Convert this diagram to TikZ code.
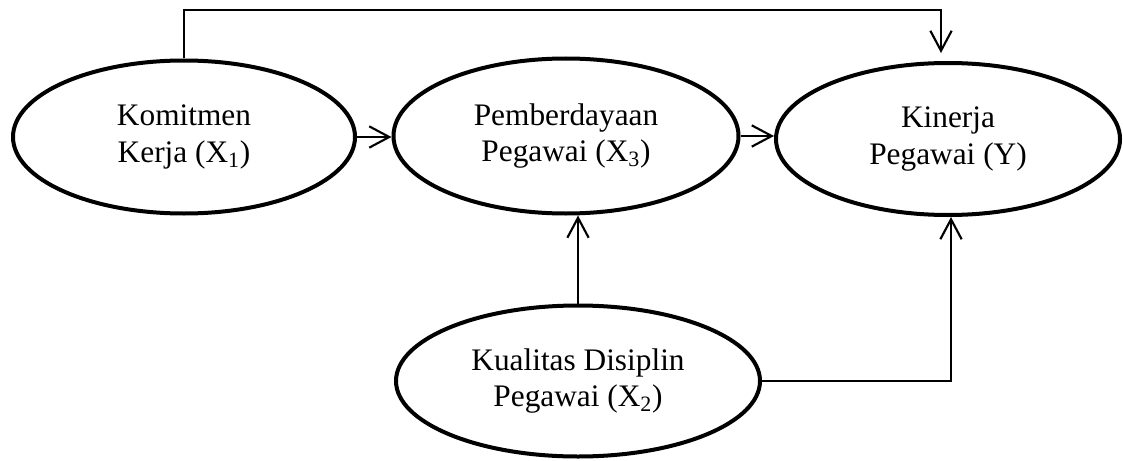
\documentclass[tikz,border=0pt]{standalone}
\usepackage{fontspec}
\setmainfont{Liberation Serif}
\usetikzlibrary{arrows.meta,shapes.geometric}

\tikzset{
  var/.style={draw, ellipse, line width=3pt, inner sep=0pt, align=center,
    font=\fontsize{23.5}{27.7}\selectfont},
  conn/.style={line width=1.6pt, -{Straight Barb[length=15pt,width=16pt]}}
}

\begin{document}
\begin{tikzpicture}[x=0.75pt,y=-0.75pt]
  \useasboundingbox (0,0) rectangle (1123,460);

  % variables
  \node[var, minimum width=256.5pt, minimum height=114.75pt] (kom) at (184,137)
    {Komitmen\\Kerja (X\textsubscript{1})};
  \node[var, minimum width=258.75pt, minimum height=116.25pt] (pem) at (566,136)
    {Pemberdayaan\\Pegawai (X\textsubscript{3})};
  \node[var, minimum width=258pt, minimum height=114pt] (kin) at (948,139)
    {Kinerja\\Pegawai (Y)};
  \node[var, minimum width=273pt, minimum height=113.25pt] (kua) at (578,381)
    {Kualitas Disiplin\\Pegawai (X\textsubscript{2})};

  % route of the upper path
  \coordinate (topr) at (941,10);
  \coordinate (kintip) at (941,53);

  % paths
  \draw[conn] (kom.north) |- (topr) -- (kintip);
  \draw[conn] (kom.east) -- (kom.east -| pem.west);
  \draw[conn] (pem.east) -- (pem.east -| kin.west);
  \draw[conn] (kua.north) -- (kua.north |- pem.south);
  \draw[conn] (kua.east) -| ([xshift=2.25pt]kin.south);
\end{tikzpicture}
\end{document}
